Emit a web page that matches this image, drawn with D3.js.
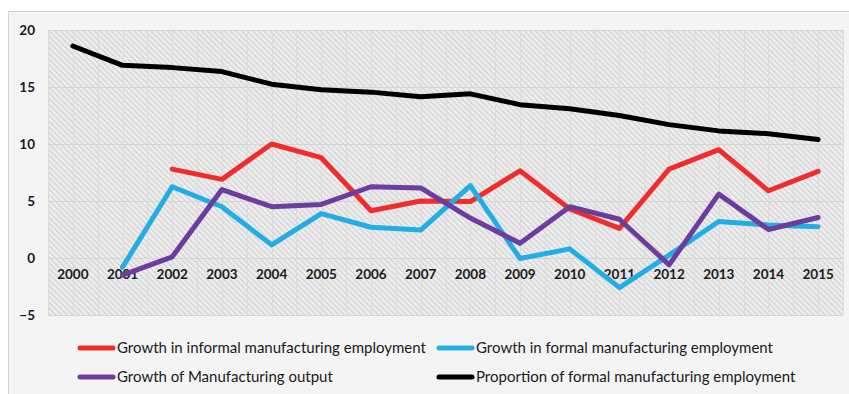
<!DOCTYPE html>
<html>
<head>
<meta charset="utf-8">
<script src="https://cdn.jsdelivr.net/npm/d3@7"></script>
<style>
  html, body { margin: 0; padding: 0; background: #ffffff; }
  svg { display: block; }
</style>
</head>
<body>
<svg id="chart" width="849" height="394"></svg>
<script>
// Manufacturing employment and output, 2000–2015 (%)
const years = ["2000","2001","2002","2003","2004","2005","2006","2007","2008","2009","2010","2011","2012","2013","2014","2015"];
const informalGrowth = [null, null, 7.8, 6.9, 10.0, 8.8, 4.15, 5.0, 4.95, 7.65, 4.3, 2.6, 7.8, 9.5, 5.9, 7.6];
const formalGrowth   = [null, -0.8, 6.25, 4.5, 1.15, 3.9, 2.7, 2.45, 6.35, -0.05, 0.8, -2.6, 0.25, 3.2, 2.9, 2.75];
const outputGrowth   = [null, -1.5, 0.1, 6.0, 4.5, 4.7, 6.25, 6.15, 3.5, 1.3, 4.5, 3.4, -0.6, 5.6, 2.5, 3.55];
const formalShare    = [18.6, 16.9, 16.7, 16.35, 15.25, 14.75, 14.55, 14.15, 14.4, 13.45, 13.1, 12.5, 11.7, 11.15, 10.9, 10.4];
const yTicks = [-5, 0, 5, 10, 15, 20];

const seriesNames = [
  "Growth in informal manufacturing employment",
  "Growth in formal manufacturing employment",
  "Growth of Manufacturing output",
  "Proportion of formal manufacturing employment"
];
const seriesValues = [informalGrowth, formalGrowth, outputGrowth, formalShare];
const seriesColors = ["#ef2d2d", "#22aee4", "#6c3d9e", "#000000"];

const svg = d3.select("#chart");
const plot = { left: 48, right: 843, top: 30, bottom: 315 };

// Chart frame
svg.append("rect")
  .attr("x", 8.5).attr("y", 11.5)
  .attr("width", 849 - 8).attr("height", 394 - 11)
  .attr("fill", "#f4f4f4").attr("stroke", "#d4d4d4");

// Diagonal hatch for the plot area
const defs = svg.append("defs");
const pat = defs.append("pattern")
  .attr("id", "hatch")
  .attr("patternUnits", "userSpaceOnUse")
  .attr("width", 4).attr("height", 4)
  .attr("patternTransform", "rotate(-45)");
pat.append("rect").attr("width", 4).attr("height", 4).attr("fill", "#efefef");
pat.append("rect").attr("width", 1.6).attr("height", 4).attr("fill", "#d6d6d6");

const x = d3.scaleBand().domain(years).range([plot.left, plot.right]);
const y = d3.scaleLinear().domain([-5, 20]).range([plot.bottom, plot.top]);
const cx = d => x(d) + x.bandwidth() / 2;

svg.append("rect")
  .attr("x", plot.left).attr("y", plot.top)
  .attr("width", plot.right - plot.left).attr("height", plot.bottom - plot.top)
  .attr("fill", "url(#hatch)");

// Vertical gridlines at category edges and centres
const grid = svg.append("g");
const vPos = [];
years.forEach(d => { vPos.push(x(d)); vPos.push(cx(d)); });
vPos.push(plot.right);
grid.selectAll("line.v").data(vPos).join("line")
  .attr("class", "v")
  .attr("x1", d => Math.round(d) + 0.5).attr("x2", d => Math.round(d) + 0.5)
  .attr("y1", plot.top).attr("y2", plot.bottom)
  .attr("stroke", "#dcdcdc").attr("stroke-width", 1);

// Horizontal gridlines
grid.selectAll("line.h").data(yTicks).join("line")
  .attr("class", "h")
  .attr("x1", plot.left).attr("x2", plot.right)
  .attr("y1", d => Math.round(y(d)) + 0.5).attr("y2", d => Math.round(y(d)) + 0.5)
  .attr("stroke", "#d4d4d4").attr("stroke-width", 1);

// Y axis labels
const yAxis = d3.axisLeft(y).tickValues(yTicks).tickSize(0).tickPadding(0);
svg.append("g")
  .attr("transform", "translate(35,0)")
  .call(yAxis)
  .call(g => g.select(".domain").remove())
  .selectAll("text")
  .attr("fill", "#1a1a1a")
  .style("font-family", "Lato, 'Open Sans', sans-serif")
  .style("font-weight", "bold")
  .style("font-size", "13.5px");

// X axis labels, placed just under the zero line
const xAxis = d3.axisBottom(x).tickSize(0).tickPadding(0);
svg.append("g")
  .attr("transform", `translate(0,${y(0) + 11})`)
  .call(xAxis)
  .call(g => g.select(".domain").remove())
  .selectAll("text")
  .attr("fill", "#1a1a1a")
  .style("font-family", "Lato, 'Open Sans', sans-serif")
  .style("font-weight", "bold")
  .style("font-size", "13.5px");

// Series lines
const line = d3.line()
  .defined(d => d.v !== null)
  .x(d => cx(d.year))
  .y(d => y(d.v));

seriesValues.forEach((vals, i) => {
  const pts = years.map((yr, j) => ({ year: yr, v: vals[j] }));
  svg.append("path")
    .datum(pts)
    .attr("d", line)
    .attr("fill", "none")
    .attr("stroke", seriesColors[i])
    .attr("stroke-width", 5)
    .attr("stroke-linejoin", "round")
    .attr("stroke-linecap", "round");
});

// Legend
const legendPos = [
  { x: 78, y: 348 }, { x: 437, y: 348 },
  { x: 78, y: 377 }, { x: 437, y: 377 }
];
const legend = svg.append("g");
seriesNames.forEach((name, i) => {
  const p = legendPos[i];
  legend.append("line")
    .attr("x1", p.x + 2).attr("x2", p.x + 35)
    .attr("y1", p.y).attr("y2", p.y)
    .attr("stroke", seriesColors[i])
    .attr("stroke-width", 5)
    .attr("stroke-linecap", "round");
  legend.append("text")
    .attr("x", p.x + 39).attr("y", p.y)
    .attr("dy", "0.35em")
    .attr("fill", "#1a1a1a")
    .style("font-family", "Lato, 'Open Sans', sans-serif")
    .style("font-size", "15px")
    .text(name);
});
</script>
</body>
</html>
